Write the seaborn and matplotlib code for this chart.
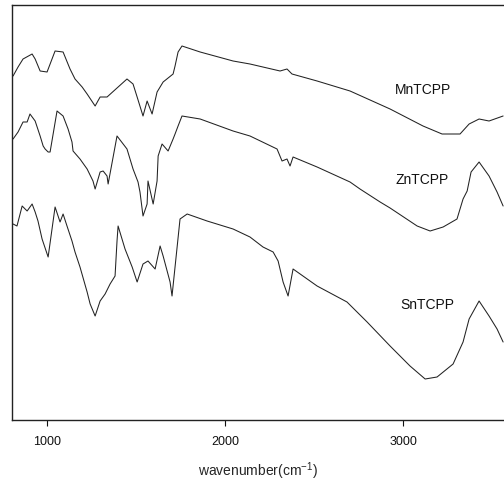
import numpy as np
import pandas as pd
import matplotlib
matplotlib.use("Agg")
import matplotlib.pyplot as plt
import seaborn as sns

sns.set_style("white")
plt.rcParams['font.family'] = ['Liberation Sans', 'DejaVu Sans']
plt.rcParams['mathtext.fontset'] = 'custom'
plt.rcParams['mathtext.rm'] = 'Liberation Sans'
plt.rcParams['mathtext.it'] = 'Liberation Sans'

mn_x = [809, 837, 865, 916, 933, 961, 1000, 1045, 1090, 1129, 1157, 1197, 1225, 1270, 1298,
        1337, 1449, 1483, 1506, 1539, 1562, 1590, 1618, 1652, 1708, 1719, 1736, 1758, 1860, 2045,
        2140, 2309, 2348, 2376, 2517, 2702, 2927, 3112, 3219, 3320, 3371, 3427, 3483, 3562]
mn_y = [344, 353, 361, 366, 361, 349, 348, 369, 368, 351, 341, 333, 326, 314, 323,
        323, 341, 336, 323, 304, 319, 306, 328, 338, 346, 354, 368, 374, 368, 359,
        356, 349, 351, 346, 339, 329, 311, 294, 286, 286, 296, 301, 299, 304]

zn_x = [809, 837, 865, 888, 904, 933, 961, 978, 989, 1006, 1017, 1056, 1090, 1118, 1140,
        1146, 1185, 1225, 1258, 1270, 1298, 1315, 1337, 1343, 1393, 1449, 1483, 1511, 1522, 1539,
        1562, 1567, 1596, 1618, 1624, 1646, 1680, 1708, 1719, 1736, 1758, 1860, 2045, 2140, 2292,
        2320, 2348, 2365, 2382, 2517, 2702, 2758, 2871, 2927, 3079, 3152, 3225, 3303, 3337, 3360,
        3382, 3427, 3483, 3528, 3562]
zn_y = [281, 288, 298, 298, 306, 299, 284, 274, 271, 268, 268, 309, 304, 291, 278,
        269, 261, 251, 239, 231, 248, 249, 244, 236, 284, 271, 251, 238, 228, 204,
        216, 239, 216, 239, 264, 276, 269, 281, 286, 294, 304, 301, 289, 284, 271,
        259, 261, 254, 263, 253, 238, 231, 218, 212, 194, 189, 193, 201, 221, 229,
        248, 258, 244, 228, 214]

sn_x = [809, 831, 860, 888, 916, 933, 949, 972, 1006, 1045, 1073, 1090, 1112, 1140, 1157,
        1185, 1225, 1242, 1270, 1298, 1326, 1354, 1382, 1393, 1399, 1438, 1478, 1506, 1539, 1567,
        1607, 1635, 1652, 1691, 1702, 1747, 1787, 1899, 2045, 2140, 2213, 2270, 2298, 2326, 2354,
        2382, 2517, 2685, 2798, 2927, 3039, 3124, 3191, 3281, 3337, 3371, 3427, 3483, 3528, 3562]
sn_y = [196, 194, 214, 209, 216, 208, 199, 181, 163, 213, 198, 206, 194, 179, 168,
        153, 128, 116, 104, 119, 126, 136, 144, 179, 194, 171, 153, 138, 156, 159,
        151, 174, 164, 138, 124, 201, 206, 199, 191, 183, 173, 168, 159, 138, 124,
        151, 134, 118, 98, 74, 54, 41, 43, 56, 78, 101, 119, 104, 91, 78]

labels = ["MnTCPP", "ZnTCPP", "SnTCPP"]
label_x = [3112, 3107, 3135]
label_y = [331, 241, 116]

xticks = [1000, 2000, 3000]

W, H = 504, 485
fig = plt.figure(figsize=(W / 100, H / 100), dpi=100)
ax = fig.add_axes([12 / W, 1 - 421 / H, 1 - 12 / W, (421 - 6) / H])

for xs, ys in [(mn_x, mn_y), (zn_x, zn_y), (sn_x, sn_y)]:
    df = pd.DataFrame({"x": xs, "y": ys})
    sns.lineplot(data=df, x="x", y="y", ax=ax, color="#222222", linewidth=0.75,
                 estimator=None, sort=False)

for t, lx, ly in zip(labels, label_x, label_y):
    ax.text(lx, ly, t, fontsize=10, ha="center", va="center", color="#111111")

ax.set_xlim(803, 3567)
ax.set_ylim(0, 415)
ax.set_xticks(xticks)
ax.set_xticklabels([str(v) for v in xticks], fontsize=9)
ax.set_yticks([])
ax.set_ylabel("")
ax.set_xlabel("wavenumber(cm$^{-1}$)", fontsize=10, labelpad=9)
ax.tick_params(axis="x", direction="out", length=4, width=0.8, bottom=True, pad=7, colors="#111111")
for s in ["left", "top", "bottom"]:
    ax.spines[s].set_color("#222222")
    ax.spines[s].set_linewidth(1.0)
ax.spines["right"].set_visible(False)

fig.savefig("out.png", dpi=100)
